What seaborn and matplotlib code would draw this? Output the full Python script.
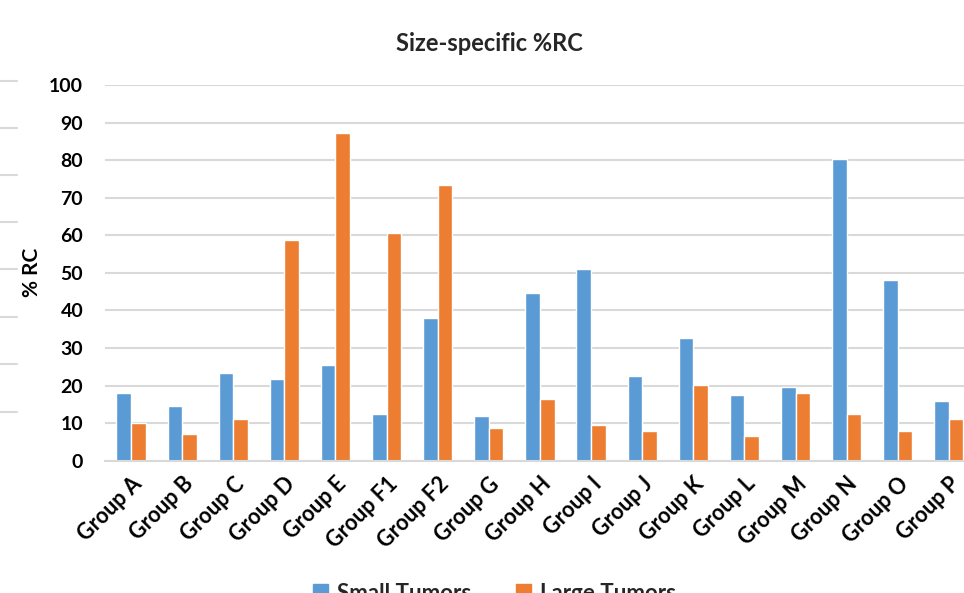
import matplotlib
matplotlib.use("Agg")
import matplotlib.pyplot as plt
import seaborn as sns
import pandas as pd
from matplotlib.lines import Line2D

# 数据
groups = ['Group A', 'Group B', 'Group C', 'Group D', 'Group E', 'Group F1', 'Group F2', 'Group G',
          'Group H', 'Group I', 'Group J', 'Group K', 'Group L', 'Group M', 'Group N', 'Group O', 'Group P']
small_tumors = [18.0, 14.6, 23.4, 21.7, 25.6, 12.5, 38.1, 11.8, 44.7,
                50.9, 22.5, 32.7, 17.4, 19.5, 80.2, 48.1, 16.0]
large_tumors = [10.0, 7.2, 11.1, 58.8, 87.3, 60.5, 73.5, 8.7, 16.4,
                9.4, 7.8, 20.1, 6.5, 18.1, 12.4, 7.9, 11.1]
series_names = ['Small Tumors', 'Large Tumors']
colors = ['#5B9BD5', '#ED7D31']
y_ticks = [0, 10, 20, 30, 40, 50, 60, 70, 80, 90, 100]

df = pd.DataFrame({
    'group': groups * 2,
    'value': small_tumors + large_tumors,
    'series': [series_names[0]] * len(groups) + [series_names[1]] * len(groups),
})

sns.set_theme(style='white')
plt.rcParams['font.family'] = ['Lato', 'DejaVu Sans']
plt.rcParams['font.weight'] = 'bold'

fig = plt.figure(figsize=(9.64, 5.93), dpi=100)
# 图表右侧被截断，所以坐标区超出画布
ax = fig.add_axes([0.1094, 0.2231, 0.9014, 0.6336])

sns.barplot(data=df, x='group', y='value', hue='series', palette=colors,
            width=0.57, gap=0, saturation=1, legend=False, ax=ax)

ax.set_xlim(-0.5, len(groups) - 0.5)
ax.set_ylim(0, 100)
ax.set_yticks(y_ticks)
ax.set_yticklabels([str(t) for t in y_ticks], fontsize=14, fontweight='bold', color='#000000')
ax.yaxis.grid(True, color='#D9D9D9', linewidth=1.5)
ax.set_axisbelow(True)
for s in ['top', 'right', 'left']:
    ax.spines[s].set_visible(False)
ax.spines['bottom'].set_color('#D9D9D9')
ax.spines['bottom'].set_linewidth(1.5)
ax.tick_params(axis='y', length=0, pad=16)
ax.tick_params(axis='x', length=0, pad=9)
ax.set_xticks(range(len(groups)))
ax.set_xticklabels(groups, rotation=45, ha='right', rotation_mode='anchor',
                   fontsize=15.5, fontweight='bold', color='#000000')
ax.set_xlabel('')
ax.set_ylabel('% RC', fontsize=15, fontweight='bold', labelpad=5, color='#000000')

fig.text(0.508, 0.927, 'Size-specific %RC', ha='center', va='center', fontsize=17, fontweight='bold')

# 左边缘残留的另一张图的网格线
for yp in [81, 128, 175, 222, 269, 317, 364, 412]:
    fig.add_artist(Line2D([0, 17 / 964], [1 - yp / 593, 1 - yp / 593], color='#D9D9D9', linewidth=1.5))

handles = [plt.Rectangle((0, 0), 1, 1, color=c) for c in colors]
fig.legend(handles, series_names, loc='center', bbox_to_anchor=(0.513, 0.0), ncol=2,
           frameon=False, handlelength=0.7, handleheight=0.7, handletextpad=0.4, columnspacing=2.0,
           prop={'weight': 'bold', 'size': 16})

fig.savefig('out.png', dpi=100)
